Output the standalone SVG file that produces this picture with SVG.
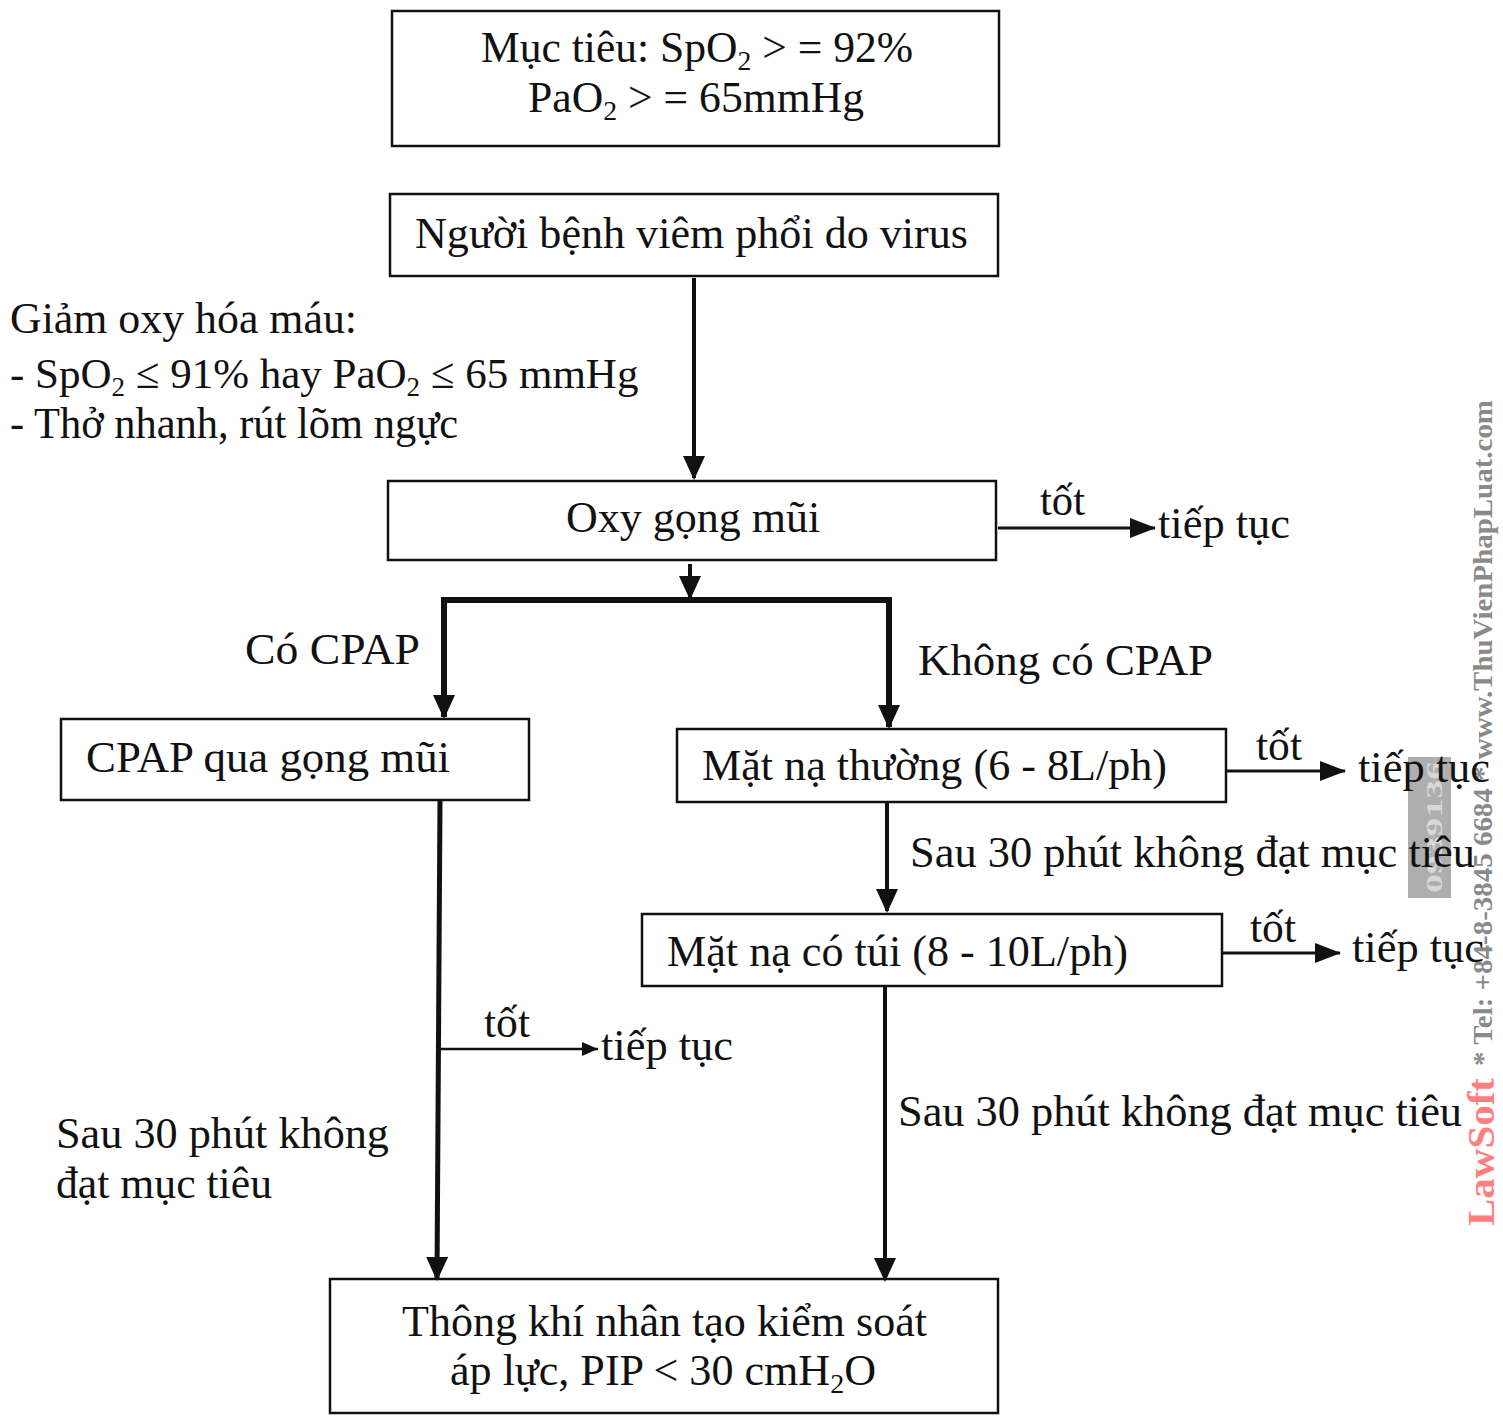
<svg xmlns="http://www.w3.org/2000/svg" width="1503" height="1416" viewBox="0 0 1503 1416">
<style>
.box{fill:#fff;stroke:#111;stroke-width:2.5}
.t{font-family:"Liberation Serif","Times New Roman",serif;font-size:44px;fill:#111}
.c{text-anchor:middle}
.sub{font-size:28px}
.ln{stroke:#111;fill:none}
.wm{font-family:"Liberation Serif","Times New Roman",serif;font-weight:bold;font-size:28px;fill:#8a8a8a}
.wmr{fill:#ff7f7f;font-size:38px}
</style>
<defs>
<marker id="ah" markerUnits="userSpaceOnUse" markerWidth="24" markerHeight="22" refX="22" refY="11" orient="auto">
<path d="M0,0 L24,11 L0,22 z" fill="#111"/>
</marker>
<marker id="ahs" markerUnits="userSpaceOnUse" markerWidth="26" markerHeight="20" refX="25" refY="10" orient="auto">
<path d="M0,0 L26,10 L0,20 z" fill="#111"/>
</marker>
<marker id="aht" markerUnits="userSpaceOnUse" markerWidth="16" markerHeight="14" refX="16" refY="7" orient="auto">
<path d="M0,0 L16,7 L0,14 z" fill="#111"/>
</marker>
</defs>
<rect width="1503" height="1416" fill="#fff"/>

<g id="watermark">
<rect x="1408" y="757" width="43" height="141" fill="#9a9a9a" opacity="0.8"/>
<text transform="translate(1442,893) rotate(-90)" font-family="Liberation Serif,serif" font-weight="bold" font-size="24" fill="#d8d8d8" textLength="132" lengthAdjust="spacingAndGlyphs">0939136</text>
<text class="wm wmr" transform="translate(1494,1226) rotate(-90)" textLength="148" lengthAdjust="spacingAndGlyphs">LawSoft</text>
<text class="wm" transform="translate(1492,1066) rotate(-90)" textLength="666" lengthAdjust="spacingAndGlyphs">* Tel: +84-8-3845 6684 * www.ThuVienPhapLuat.com</text>
</g>

<g id="n_goal">
<rect class="box" x="392" y="11" width="607" height="135"/>
<text class="t" x="481" y="62" textLength="432" lengthAdjust="spacingAndGlyphs">Mục tiêu: SpO<tspan class="sub" dy="8">2</tspan><tspan dy="-8"> &gt; = 92%</tspan></text>
<text class="t" x="528" y="112" textLength="336" lengthAdjust="spacingAndGlyphs">PaO<tspan class="sub" dy="8">2</tspan><tspan dy="-8"> &gt; = 65mmHg</tspan></text>
</g>

<g id="n_patient">
<rect class="box" x="390" y="194" width="608" height="82"/>
<text class="t" x="415" y="248" textLength="553" lengthAdjust="spacingAndGlyphs">Người bệnh viêm phổi do virus</text>
</g>

<g id="lbl_hypox">
<text class="t" x="10" y="333" textLength="347" lengthAdjust="spacingAndGlyphs">Giảm oxy hóa máu:</text>
<text class="t" x="10" y="388" style="font-size:43px">- SpO<tspan style="font-size:27px" dy="8">2</tspan><tspan dy="-8"> ≤ 91% hay PaO</tspan><tspan style="font-size:27px" dy="8">2</tspan><tspan dy="-8"> ≤ 65 mmHg</tspan></text>
<text class="t" x="10" y="438" textLength="448" lengthAdjust="spacingAndGlyphs">- Thở nhanh, rút lõm ngực</text>
</g>

<g id="n_oxy">
<rect class="box" x="388" y="481" width="608" height="79"/>
<text class="t c" x="693" y="532">Oxy gọng mũi</text>
</g>

<g id="n_cpap">
<rect class="box" x="61" y="719" width="468" height="81"/>
<text class="t" x="86" y="772" textLength="364" lengthAdjust="spacingAndGlyphs">CPAP qua gọng mũi</text>
</g>

<g id="n_mask">
<rect class="box" x="677" y="729" width="549" height="73"/>
<text class="t" x="702" y="780" textLength="465" lengthAdjust="spacingAndGlyphs">Mặt nạ thường (6 - 8L/ph)</text>
</g>

<g id="n_bagmask">
<rect class="box" x="642" y="914" width="580" height="72"/>
<text class="t" x="667" y="966" textLength="461" lengthAdjust="spacingAndGlyphs">Mặt nạ có túi (8 - 10L/ph)</text>
</g>

<g id="n_vent">
<rect class="box" x="330" y="1279" width="668" height="134"/>
<text class="t" x="402" y="1336" textLength="525" lengthAdjust="spacingAndGlyphs">Thông khí nhân tạo kiểm soát</text>
<text class="t" x="450" y="1385" textLength="426" lengthAdjust="spacingAndGlyphs">áp lực, PIP &lt; 30 cmH<tspan class="sub" dy="8">2</tspan><tspan dy="-8">O</tspan></text>
</g>

<g id="connectors">
<line class="ln" x1="694" y1="278" x2="694" y2="478" stroke-width="4" marker-end="url(#ah)"/>
<line class="ln" x1="690" y1="564" x2="690" y2="598" stroke-width="4" marker-end="url(#ah)"/>
<polyline class="ln" points="444,717 444,600 889,600 889,727" stroke-width="6"/>
<line class="ln" x1="444" y1="690" x2="444" y2="717" stroke-width="1" marker-end="url(#ah)"/>
<line class="ln" x1="889" y1="700" x2="889" y2="727" stroke-width="1" marker-end="url(#ah)"/>
<line class="ln" x1="998" y1="528" x2="1155" y2="528" stroke-width="3" marker-end="url(#ahs)"/>
<line class="ln" x1="1226" y1="771" x2="1345" y2="771" stroke-width="3" marker-end="url(#ahs)"/>
<line class="ln" x1="887" y1="802" x2="887" y2="911" stroke-width="4" marker-end="url(#ah)"/>
<line class="ln" x1="1222" y1="953" x2="1340" y2="953" stroke-width="3" marker-end="url(#ahs)"/>
<line class="ln" x1="885" y1="986" x2="885" y2="1280" stroke-width="4" marker-end="url(#ah)"/>
<line class="ln" x1="440" y1="800" x2="437" y2="1279" stroke-width="5" marker-end="url(#ah)"/>
<line class="ln" x1="440" y1="1049" x2="598" y2="1049" stroke-width="2.5" marker-end="url(#aht)"/>
</g>

<g id="labels">
<text class="t" x="1040" y="515" textLength="45" lengthAdjust="spacingAndGlyphs">tốt</text>
<text class="t" x="1158" y="538" textLength="132" lengthAdjust="spacingAndGlyphs">tiếp tục</text>
<text class="t" x="245" y="664" textLength="175" lengthAdjust="spacingAndGlyphs">Có CPAP</text>
<text class="t" x="918" y="675" textLength="295" lengthAdjust="spacingAndGlyphs">Không có CPAP</text>
<text class="t" x="1256" y="760" textLength="46" lengthAdjust="spacingAndGlyphs">tốt</text>
<text class="t" x="1358" y="782" textLength="132" lengthAdjust="spacingAndGlyphs">tiếp tục</text>
<text class="t" x="910" y="867" textLength="565" lengthAdjust="spacingAndGlyphs">Sau 30 phút không đạt mục tiêu</text>
<text class="t" x="1250" y="942" textLength="46" lengthAdjust="spacingAndGlyphs">tốt</text>
<text class="t" x="1352" y="962" textLength="132" lengthAdjust="spacingAndGlyphs">tiếp tục</text>
<text class="t" x="484" y="1037" textLength="46" lengthAdjust="spacingAndGlyphs">tốt</text>
<text class="t" x="601" y="1060" textLength="132" lengthAdjust="spacingAndGlyphs">tiếp tục</text>
<text class="t" x="898" y="1126" textLength="564" lengthAdjust="spacingAndGlyphs">Sau 30 phút không đạt mục tiêu</text>
<text class="t" x="56" y="1148" textLength="333" lengthAdjust="spacingAndGlyphs">Sau 30 phút không</text>
<text class="t" x="56" y="1198" textLength="216" lengthAdjust="spacingAndGlyphs">đạt mục tiêu</text>
</g>
</svg>
